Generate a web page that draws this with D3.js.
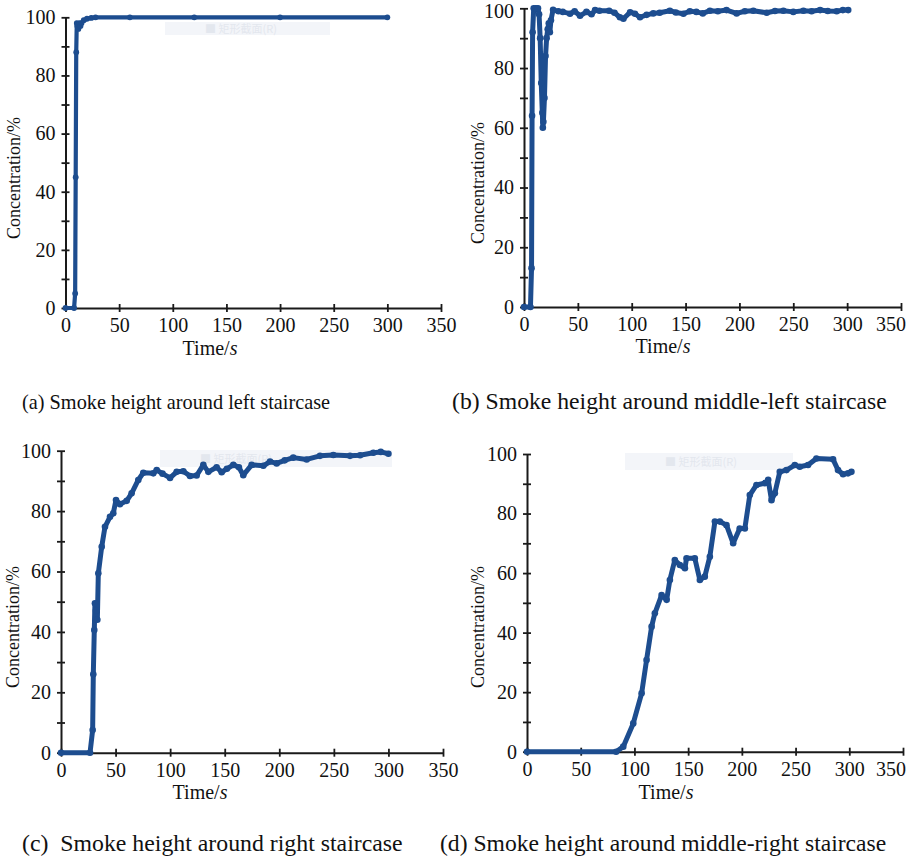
<!DOCTYPE html>
<html>
<head>
<meta charset="utf-8">
<script src="https://cdn.jsdelivr.net/npm/d3@7"></script>
<style>
  body { margin: 0; background: #fff; }
  svg { display: block; }
  text { font-family: "Liberation Serif", "Times New Roman", serif; fill: #111; }
</style>
</head>
<body>
<div id="chart"></div>
<script>
// tick values shared by all four panels
const xTicks = [0, 50, 100, 150, 200, 250, 300, 350];
const yMajor = [0, 20, 40, 60, 80, 100];
const yMinor = [0, 10, 20, 30, 40, 50, 60, 70, 80, 90, 100];

// (a) left staircase
const leftTime = [0, 8, 9, 9.5, 10, 10.5, 11, 12, 13, 14, 15, 17, 20, 24, 28, 60, 120, 200, 300];
const leftConc = [0, 0, 5, 45, 88, 98, 97, 96, 98, 97, 98, 99, 99.5, 99.8, 100, 100, 100, 100, 100];

// (b) middle-left staircase
const midLeftTime = [0, 6, 7, 7.5, 8, 9, 11, 13, 14, 15, 16, 17, 17.5, 18, 19, 20, 21, 22, 23, 24, 25, 27,
  32, 36, 42.7, 47, 52, 58, 62.7, 66, 70, 79, 84, 89, 92.3, 98.5, 103, 107.7, 113.9, 120, 126, 135.4,
  141, 148, 154, 160, 166, 172.6, 180, 188, 197.4, 205, 212.9, 225.3, 233, 240.8, 250, 259.4, 267, 274.9,
  282, 290.3, 296, 301];
const midLeftConc = [0, 0, 13, 64, 92, 100, 100, 100, 98, 90, 75, 65, 60, 62, 70, 84, 90, 93, 95, 92, 96, 99.5,
  99, 98.8, 98.2, 99, 97.5, 98.8, 98, 99.4, 99.2, 99.2, 98.5, 97, 96.5, 98.7, 98.2, 97, 97.8, 98.3, 98.5, 99.2,
  98.6, 98.2, 99, 98.8, 98.3, 99.2, 99, 99.4, 98.3, 99, 99.2, 98.5, 99.1, 99.2, 98.8, 99.2, 99, 99.4,
  99.1, 99, 99.4, 99.4];

// (c) right staircase
const rightTime = [0, 26.6, 29, 29.6, 30.5, 31.1, 32, 33.3, 34.2, 37.3, 40.3, 44.9, 47.9, 50.4, 54, 60.2, 64.7,
  70.8, 75.4, 84.6, 87.7, 93, 99.9, 106, 112.1, 118.2, 124.3, 130.4, 135, 142.6, 147.2, 152, 157.9, 163,
  167, 174.7, 185.4, 191.5, 197.6, 205, 212.8, 225.1, 237.3, 249.5, 264.8, 274, 286.2, 293, 300];
const rightConc = [0, 0, 7.5, 26, 40.6, 49.5, 47, 44, 59.4, 68.2, 74.8, 78.1, 79.3, 83.7, 82.3, 83.4, 85.9,
  90.3, 92.7, 92.5, 93.6, 92.4, 91, 93, 93.2, 91.6, 91.8, 95.3, 93, 94.5, 92.9, 94, 95.3, 94.5,
  91.9, 95.3, 95, 96.4, 95.8, 96.8, 97.7, 97.1, 98.3, 98.6, 98.3, 98.5, 99.3, 99.6, 99];

// (d) middle-right staircase
const midRightTime = [0, 83, 89.6, 98.9, 106.7, 111.3, 116, 119, 125.3, 130, 133, 137.6, 142.3, 147, 148.5,
  156.2, 160.9, 165.5, 170.2, 174.9, 179.5, 185.7, 191.9, 198, 202.8, 207.4, 213.6, 221.4, 224.5, 227.6,
  230.7, 235.3, 241.5, 249.3, 253.9, 261.6, 269.4, 284.9, 289.5, 294.2, 298.8, 302];
const midRightConc = [0, 0, 1.7, 9.5, 19.6, 30.8, 42, 46.5, 52.6, 51, 57.7, 64.4, 62.7, 61.6, 65,
  65, 57.7, 58.8, 65.5, 77.3, 77.3, 76.1, 70, 75, 75, 86.2, 89.6, 90.2, 91.3, 84.5,
  86.8, 94, 94.6, 96.3, 95.7, 96.3, 98.5, 98.2, 94.6, 93.2, 93.5, 94];

const legendName = "矩形截面(R)";
const lineColor = "#1d4d8f";

const panels = [
  { t: leftTime, c: leftConc, left: 65.5, right: 441, top: 17.3, bottom: 308, lw: 4.2,
    ylab: [16, 178], xlab: [210, 350], caption: "(a) Smoke height around left staircase", cap: [22, 409, 308],
    legend: [165, 22, 165, 13] },
  { t: midLeftTime, c: midLeftConc, left: 524, right: 901, top: 8.3, bottom: 307, lw: 5,
    ylab: [480, 183], xlab: [663, 348], caption: "(b) Smoke height around middle-left staircase", cap: [452, 409, 435],
    legend: null },
  { t: rightTime, c: rightConc, left: 61, right: 443, top: 450.7, bottom: 752.7, lw: 5,
    ylab: [15, 627], xlab: [200, 794], caption: "(c)\u00a0 Smoke height around right staircase", cap: [22, 851, 380],
    legend: [160, 450, 232, 17] },
  { t: midRightTime, c: midRightConc, left: 527, right: 903, top: 454, bottom: 751.7, lw: 5,
    ylab: [480, 627], xlab: [666, 794], caption: "(d) Smoke height around middle-right staircase", cap: [440, 851, 447],
    legend: [625, 453, 168, 17] }
];

const svg = d3.select("#chart").append("svg")
  .attr("width", 910)
  .attr("height", 857);

panels.forEach(p => {
  const x = d3.scaleLinear().domain([0, 350]).range([p.left, p.right]);
  const y = d3.scaleLinear().domain([0, 100]).range([p.bottom, p.top]);
  const g = svg.append("g");

  // faint legend left over in the original figure
  if (p.legend) {
    const [lx, ly, lwid, lh] = p.legend;
    g.append("rect")
      .attr("x", lx).attr("y", ly).attr("width", lwid).attr("height", lh)
      .attr("fill", "#f3f5f9");
    g.append("text")
      .attr("x", lx + 40).attr("y", ly + lh / 2 + 4)
      .style("font-family", "'Noto Sans CJK SC', sans-serif")
      .style("font-size", "11px")
      .style("fill", "#e3e7ee")
      .text("■   " + legendName);
  }

  // x axis
  const xAxis = g.append("g")
    .attr("transform", `translate(0, ${p.bottom})`)
    .call(d3.axisBottom(x).tickValues(xTicks).tickSize(4).tickSizeOuter(0).tickPadding(6));
  xAxis.select(".domain").attr("stroke", "#1a1a1a").attr("stroke-width", 2);
  xAxis.selectAll(".tick line").attr("y1", -4).attr("stroke", "#1a1a1a").attr("stroke-width", 1.8);
  xAxis.selectAll(".tick text")
    .style("font-family", "'Liberation Serif', serif")
    .style("font-size", "20px").attr("fill", "#111");
  // keep the last label inside the page
  xAxis.selectAll(".tick text").each(function () {
    const box = this.getBBox();
    const tx = +this.parentNode.getAttribute("transform").match(/translate\(([-\d.]+)/)[1];
    const over = tx + box.x + box.width - 906;
    if (over > 0) d3.select(this).attr("x", -over);
  });

  // y axis, minor ticks every 10, labels every 20
  const yAxis = g.append("g")
    .attr("transform", `translate(${p.left}, 0)`)
    .call(d3.axisLeft(y).tickValues(yMinor).tickSize(4).tickSizeOuter(0).tickPadding(6)
      .tickFormat(d => yMajor.includes(d) ? d : ""));
  yAxis.select(".domain").attr("stroke", "#1a1a1a").attr("stroke-width", 2);
  yAxis.selectAll(".tick line").attr("x1", 4).attr("stroke", "#1a1a1a").attr("stroke-width", 1.8);
  yAxis.selectAll(".tick text")
    .style("font-family", "'Liberation Serif', serif")
    .style("font-size", "20px").attr("fill", "#111");
  // keep the top label inside the page
  yAxis.selectAll(".tick text").each(function () {
    const box = this.getBBox();
    const ty = +this.parentNode.getAttribute("transform").match(/,\s*([-\d.]+)\)/)[1];
    const over = -(ty + box.y);
    if (over > 0) d3.select(this).attr("y", over);
  });

  // curve
  const pts = p.t.map((t, i) => [t, p.c[i]]);
  g.append("path")
    .datum(pts)
    .attr("fill", "none")
    .attr("stroke", lineColor)
    .attr("stroke-width", p.lw)
    .attr("stroke-linejoin", "round")
    .attr("stroke-linecap", "round")
    .attr("d", d3.line().x(d => x(d[0])).y(d => y(d[1])));

  g.selectAll(".dot")
    .data(pts)
    .enter().append("circle")
    .attr("cx", d => x(d[0]))
    .attr("cy", d => y(d[1]))
    .attr("r", p.lw / 2 + 0.8)
    .attr("fill", lineColor);

  // axis labels
  g.append("text")
    .attr("transform", `translate(${p.ylab[0]}, ${p.ylab[1]}) rotate(-90)`)
    .attr("text-anchor", "middle")
    .attr("dominant-baseline", "middle")
    .style("font-size", "18px")
    .text("Concentration/%");

  const tl = g.append("text")
    .attr("x", p.xlab[0]).attr("y", p.xlab[1])
    .attr("text-anchor", "middle")
    .attr("dominant-baseline", "middle")
    .style("font-size", "20px");
  tl.append("tspan").text("Time/");
  tl.append("tspan").style("font-style", "italic").text("s");

  // caption, sized to the width it takes in the figure
  const cap = g.append("text")
    .attr("x", p.cap[0]).attr("y", p.cap[1])
    .style("font-size", "20px")
    .text(p.caption);
  const w = cap.node().getComputedTextLength();
  cap.style("font-size", (20 * p.cap[2] / w).toFixed(1) + "px");
});
</script>
</body>
</html>
